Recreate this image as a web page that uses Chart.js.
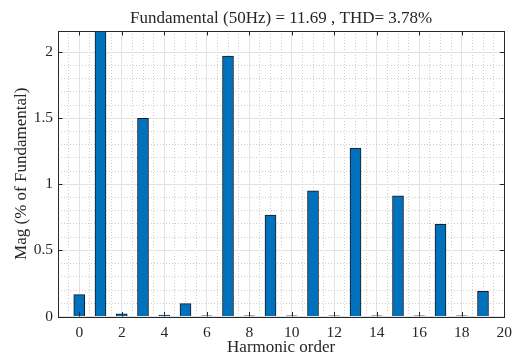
<!DOCTYPE html>
<html>
<head>
<meta charset="utf-8">
<script src="https://cdn.jsdelivr.net/npm/chart.js@4/dist/chart.umd.min.js"></script>
<style>
  html, body { margin: 0; padding: 0; background: #fff; }
  #wrap { width: 519px; height: 356px; }
</style>
</head>
<body>
<div id="wrap"><canvas id="c" width="519" height="356"></canvas></div>
<script>
// Data
const harmonics = [0, 1, 2, 3, 4, 5, 6, 7, 8, 9, 10, 11, 12, 13, 14, 15, 16, 17, 18, 19];
const magnitudes = [0.165, 100, 0.02, 1.50, 0.01, 0.097, 0.005, 1.97, 0.005, 0.767, 0.005, 0.95, 0.005, 1.275, 0.005, 0.913, 0.005, 0.697, 0.005, 0.19];
const titleText = 'Fundamental (50Hz) = 11.69 , THD= 3.78%';
const xTitle = 'Harmonic order';
const yTitle = 'Mag (% of Fundamental)';
const xMajorTicks = [0, 2, 4, 6, 8, 10, 12, 14, 16, 18, 20];
const yMajorTicks = [0, 0.5, 1, 1.5, 2];

const FONT = "'Liberation Serif', 'Times New Roman', serif";
const TXT = '#262626';

function isMult(v, m) { const r = v / m; return Math.abs(r - Math.round(r)) < 1e-6; }

const frame = {
  id: 'frame',
  afterDatasetsDraw(chart) {
    const { ctx, chartArea: a, scales: { x, y } } = chart;
    ctx.save();
    ctx.strokeStyle = TXT;
    ctx.lineWidth = 1;
    const L = 4.5;
    ctx.beginPath();
    xMajorTicks.forEach(v => {
      const px = Math.round(x.getPixelForValue(v)) + 0.5;
      ctx.moveTo(px, a.bottom); ctx.lineTo(px, a.bottom - L);
      ctx.moveTo(px, a.top); ctx.lineTo(px, a.top + L);
    });
    yMajorTicks.forEach(v => {
      const py = Math.round(y.getPixelForValue(v)) + 0.5;
      ctx.moveTo(a.left, py); ctx.lineTo(a.left + L, py);
      ctx.moveTo(a.right, py); ctx.lineTo(a.right - L, py);
    });
    ctx.stroke();
    ctx.strokeRect(Math.round(a.left) + 0.5, Math.round(a.top) + 0.5,
                   Math.round(a.right - a.left), Math.round(a.bottom - a.top));
    ctx.restore();
  }
};

new Chart(document.getElementById('c'), {
  type: 'bar',
  data: {
    datasets: [{
      data: harmonics.map((h, i) => ({ x: h, y: magnitudes[i] })),
      backgroundColor: '#0072BD',
      borderColor: '#1a1a1a',
      borderWidth: 1,
      barThickness: 11,
      borderSkipped: 'bottom'
    }]
  },
  options: {
    responsive: false,
    animation: false,
    events: [],
    layout: { padding: { left: 0, right: 13, top: 0, bottom: 0 } },
    plugins: {
      legend: { display: false },
      tooltip: { enabled: false },
      title: {
        display: true,
        fullSize: false,
        text: titleText,
        color: TXT,
        font: { family: FONT, size: 17, weight: 'normal' },
        padding: { top: 8, bottom: 2.6 }
      }
    },
    scales: {
      x: {
        type: 'linear',
        min: -1, max: 20,
        offset: false,
        afterFit(s) { s.height = 39.5; },
        grid: {
          offset: false,
          drawTicks: false,
          color: c => (c.tick && isMult(c.tick.value, 2)) ? '#e3e3e3' : '#cdcdcd',
          lineWidth: 1
        },
        border: {
          display: false,
          dash: c => (c.tick && isMult(c.tick.value, 2)) ? [] : [1, 2]
        },
        ticks: {
          stepSize: 0.5,
          autoSkip: false,
          maxRotation: 0,
          padding: 7,
          color: TXT,
          font: { family: FONT, size: 15.5 },
          callback: v => (isMult(v, 2) && v >= 0) ? String(v) : ''
        },
        title: {
          display: true,
          text: xTitle,
          color: TXT,
          font: { family: FONT, size: 17, lineHeight: 1 },
          padding: { top: 0, bottom: 0 }
        }
      },
      y: {
        type: 'linear',
        min: 0, max: 2.16,
        afterFit(s) { s.width = 58; },
        grid: {
          drawTicks: false,
          color: c => (c.tick && isMult(c.tick.value, 0.5)) ? '#e3e3e3' : '#cdcdcd',
          lineWidth: 1
        },
        border: {
          display: false,
          dash: c => (c.tick && isMult(c.tick.value, 0.5)) ? [] : [1, 2]
        },
        ticks: {
          stepSize: 0.1,
          autoSkip: false,
          padding: 5,
          color: TXT,
          font: { family: FONT, size: 15.5 },
          callback: v => isMult(v, 0.5) ? String(Math.round(v * 10) / 10) : ''
        },
        title: {
          display: true,
          text: yTitle,
          color: TXT,
          font: { family: FONT, size: 17, lineHeight: 1 },
          padding: { top: 13, bottom: 0 }
        }
      }
    }
  },
  plugins: [frame]
});
</script>
</body>
</html>
